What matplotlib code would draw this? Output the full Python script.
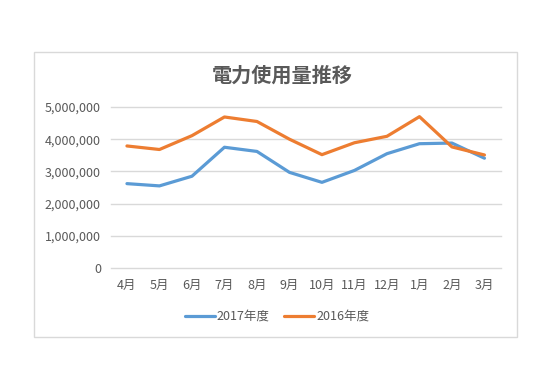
import matplotlib
matplotlib.use('Agg')
import matplotlib.pyplot as plt
from matplotlib.patches import Rectangle
from matplotlib.ticker import FuncFormatter

plt.rcParams['font.family'] = ['Noto Sans CJK JP', 'DejaVu Sans']

# data
months = ['4月', '5月', '6月', '7月', '8月', '9月', '10月', '11月', '12月', '1月', '2月', '3月']
usage_2017 = [2620000, 2550000, 2850000, 3750000, 3620000, 2970000,
              2660000, 3030000, 3550000, 3860000, 3880000, 3410000]
usage_2016 = [3790000, 3680000, 4110000, 4690000, 4550000, 4000000,
              3520000, 3890000, 4090000, 4700000, 3760000, 3510000]
series_names = ['2017年度', '2016年度']

grey = '#595959'

fig = plt.figure(figsize=(5.5, 3.89), dpi=100)
fig.patch.set_facecolor('white')

# chart frame
fig.patches.append(Rectangle((33.5 / 550, 1 - 336.5 / 389), 483 / 550, 285 / 389,
                             transform=fig.transFigure, fill=False,
                             edgecolor='#d9d9d9', linewidth=1))

ax = fig.add_axes([110.7 / 550, 1 - 268 / 389, 390 / 550, 161 / 389])
x = list(range(len(months)))
ax.plot(x, usage_2017, color='#5B9BD5', linewidth=2.3, label=series_names[0],
        solid_capstyle='round', solid_joinstyle='round')
ax.plot(x, usage_2016, color='#ED7D31', linewidth=2.3, label=series_names[1],
        solid_capstyle='round', solid_joinstyle='round')

ax.set_xlim(-0.5, len(months) - 0.5)
ax.set_ylim(0, 5000000)
ax.set_yticks(range(0, 5000001, 1000000))
ax.yaxis.set_major_formatter(FuncFormatter(lambda v, p: f'{int(v):,}'))
ax.set_xticks(x)
ax.set_xticklabels(months)
ax.grid(axis='y', color='#d9d9d9', linewidth=1)
for gl in ax.get_ygridlines():
    gl.set_clip_on(False)
ax.set_axisbelow(True)
for s in ax.spines.values():
    s.set_visible(False)
ax.tick_params(length=0, labelsize=9, colors=grey, pad=7)
ax.tick_params(axis='x', pad=8)

fig.text(282 / 550, 1 - 75 / 389, '電力使用量推移', ha='center', va='center',
         fontsize=14.5, fontweight='bold', color=grey)

leg = fig.legend(loc='center', bbox_to_anchor=(277 / 550, 1 - 316.5 / 389),
                 ncol=2, frameon=False, fontsize=9, handlelength=2.4,
                 columnspacing=1.2, handletextpad=0.15)
for t in leg.get_texts():
    t.set_color(grey)
for h in leg.get_lines():
    h.set_linewidth(2.3)

fig.savefig('out.png', dpi=100)
